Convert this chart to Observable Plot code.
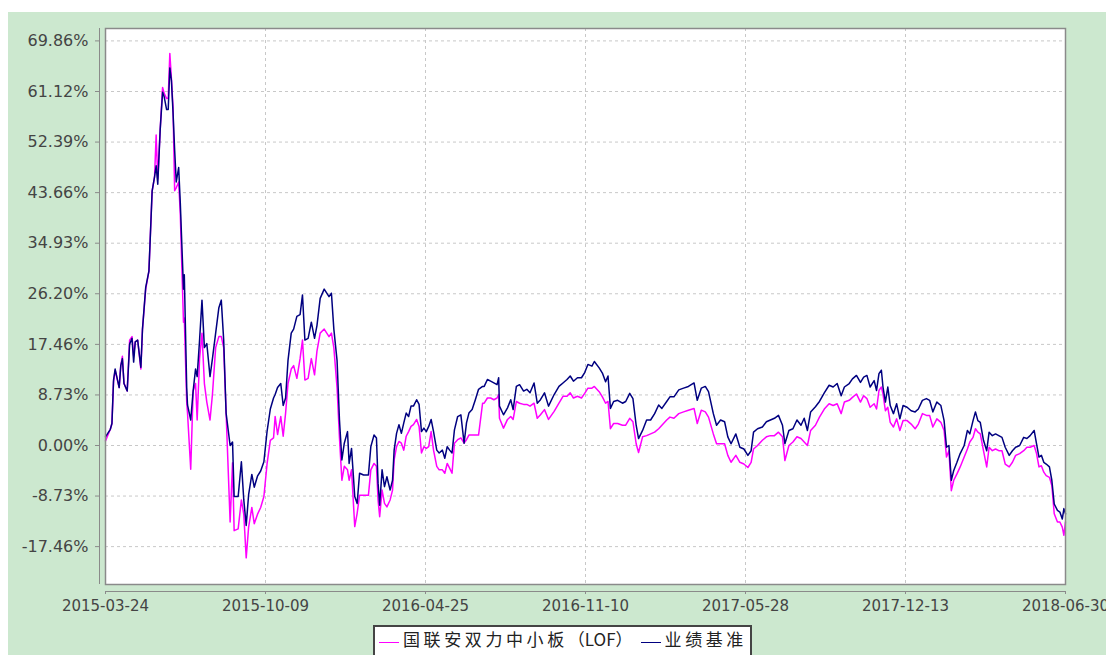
<!DOCTYPE html>
<html><head><meta charset="utf-8">
<script src="https://cdn.jsdelivr.net/npm/d3@7"></script>
<script src="https://cdn.jsdelivr.net/npm/@observablehq/plot@0.6"></script>
<style>
html,body{margin:0;padding:0;background:#fff;overflow:hidden;width:1106px;height:655px;}
#panel{position:absolute;left:8px;top:12px;width:1098px;height:643px;background:#cce8cf;overflow:hidden;}
#chart{position:absolute;left:0;top:0;}
#legend{position:absolute;left:373px;top:625px;width:379px;height:42px;box-sizing:border-box;border:2px solid #444;background:#fff;display:flex;align-items:flex-start;padding-left:4px;font-family:"Noto Sans CJK SC",sans-serif;font-size:17px;color:#222;overflow:visible;}
#legend .sw{display:inline-block;flex:0 0 20px;width:20px;height:1.6px;margin-top:14.5px;}
#legend .lt{display:inline-block;flex:0 0 auto;line-height:24px;margin-left:4px;margin-right:8px;white-space:nowrap;}
#legend .cjk{letter-spacing:3.6px;}
#legend .lat{letter-spacing:0;}
</style></head>
<body>
<div id="panel"><div id="chart"></div></div>
<div id="legend"></div>
<script>
const seriesNames = ["国联安双力中小板（LOF）", "业绩基准"];
const seriesColors = ["#ff00ff", "#000080"];
const xTickLabels = ["2015-03-24","2015-10-09","2016-04-25","2016-11-10","2017-05-28","2017-12-13","2018-06-30"];
const yTicks = [-17.46, -8.73, 0, 8.73, 17.46, 26.20, 34.93, 43.66, 52.39, 61.12, 69.86];
const yDomain = [-24, 72];

const dates = [
"2015-03-24","2015-03-30","2015-04-01","2015-04-03","2015-04-05","2015-04-10","2015-04-12","2015-04-14","2015-04-16","2015-04-20",
"2015-04-23","2015-04-26","2015-04-28","2015-04-30","2015-05-03","2015-05-07","2015-05-09","2015-05-13","2015-05-17","2015-05-21",
"2015-05-24","2015-05-26","2015-05-28","2015-05-31","2015-06-03","2015-06-05","2015-06-08","2015-06-10","2015-06-12","2015-06-14",
"2015-06-16","2015-06-18","2015-06-20","2015-06-23","2015-06-25","2015-06-29","2015-06-30","2015-07-03","2015-07-04","2015-07-08",
"2015-07-11","2015-07-14","2015-07-16","2015-07-19","2015-07-22","2015-07-25","2015-07-28","2015-08-01","2015-08-04","2015-08-08",
"2015-08-12","2015-08-15","2015-08-18","2015-08-21","2015-08-26","2015-08-29","2015-08-31","2015-09-05","2015-09-09","2015-09-12",
"2015-09-15","2015-09-18","2015-09-22","2015-09-25","2015-09-29","2015-10-03","2015-10-07","2015-10-11","2015-10-15","2015-10-19",
"2015-10-21","2015-10-24","2015-10-28","2015-10-31","2015-11-03","2015-11-06","2015-11-10","2015-11-13","2015-11-17","2015-11-21",
"2015-11-24","2015-11-27","2015-12-01","2015-12-05","2015-12-09","2015-12-12","2015-12-16","2015-12-21","2015-12-27","2015-12-30",
"2016-01-02","2016-01-06","2016-01-09","2016-01-12","2016-01-15","2016-01-19","2016-01-21","2016-01-24","2016-01-28","2016-01-31",
"2016-02-03","2016-02-08","2016-02-14","2016-02-17","2016-02-21","2016-02-24","2016-02-26","2016-02-28","2016-03-02","2016-03-05",
"2016-03-08","2016-03-12","2016-03-15","2016-03-17","2016-03-20","2016-03-23","2016-03-26","2016-03-29","2016-04-01","2016-04-04",
"2016-04-07","2016-04-10","2016-04-14","2016-04-17","2016-04-20","2016-04-23","2016-04-26","2016-04-29","2016-05-02","2016-05-05",
"2016-05-09","2016-05-12","2016-05-16","2016-05-19","2016-05-22","2016-05-25","2016-05-28","2016-05-31","2016-06-04","2016-06-08",
"2016-06-12","2016-06-15","2016-06-18","2016-06-22","2016-06-26","2016-06-30","2016-07-05","2016-07-07","2016-07-11","2016-07-15",
"2016-07-19","2016-07-23","2016-07-25","2016-07-26","2016-07-31","2016-08-05","2016-08-09","2016-08-12","2016-08-16","2016-08-20",
"2016-08-25","2016-08-29","2016-09-02","2016-09-07","2016-09-11","2016-09-15","2016-09-20","2016-09-25","2016-10-02","2016-10-08",
"2016-10-13","2016-10-18","2016-10-22","2016-10-26","2016-10-31","2016-11-05","2016-11-09","2016-11-13","2016-11-18","2016-11-21",
"2016-11-27","2016-12-01","2016-12-05","2016-12-08","2016-12-11","2016-12-15","2016-12-20","2016-12-26","2016-12-30","2017-01-04",
"2017-01-08","2017-01-12","2017-01-15","2017-01-20","2017-01-25","2017-01-30","2017-02-04","2017-02-09","2017-02-13","2017-02-19",
"2017-02-23","2017-02-28","2017-03-06","2017-03-12","2017-03-18","2017-03-25","2017-03-29","2017-04-03","2017-04-08","2017-04-12",
"2017-04-18","2017-04-22","2017-04-27","2017-05-02","2017-05-06","2017-05-10","2017-05-16","2017-05-21","2017-05-26","2017-05-31",
"2017-06-04","2017-06-07","2017-06-12","2017-06-18","2017-06-23","2017-06-28","2017-07-03","2017-07-08","2017-07-13","2017-07-16",
"2017-07-21","2017-07-26","2017-07-31","2017-08-05","2017-08-09","2017-08-13","2017-08-17","2017-08-23","2017-08-28","2017-09-03",
"2017-09-09","2017-09-14","2017-09-19","2017-09-24","2017-09-28","2017-10-04","2017-10-08","2017-10-13","2017-10-18","2017-10-22",
"2017-10-26","2017-10-30","2017-11-04","2017-11-07","2017-11-10","2017-11-13","2017-11-15","2017-11-18","2017-11-21","2017-11-24",
"2017-11-28","2017-12-02","2017-12-06","2017-12-10","2017-12-15","2017-12-20","2017-12-25","2017-12-29","2018-01-03","2018-01-08",
"2018-01-12","2018-01-16","2018-01-21","2018-01-26","2018-01-30","2018-02-02","2018-02-05","2018-02-08","2018-02-11","2018-02-15",
"2018-02-19","2018-02-24","2018-02-28","2018-03-03","2018-03-07","2018-03-10","2018-03-13","2018-03-16","2018-03-20","2018-03-24",
"2018-03-27","2018-03-31","2018-04-04","2018-04-08","2018-04-12","2018-04-16","2018-04-21","2018-04-25","2018-04-29","2018-05-04",
"2018-05-09","2018-05-13","2018-05-17","2018-05-22","2018-05-25","2018-05-28","2018-05-31","2018-06-03","2018-06-06","2018-06-10",
"2018-06-13","2018-06-16","2018-06-20","2018-06-23","2018-06-26","2018-06-28","2018-06-30"];

const fund = [
0.8,2.8,3.8,11.0,13.0,10.0,13.8,15.4,10.7,9.4,
18.2,18.8,15.5,17.9,18.2,13.2,20.1,27.0,30.1,43.9,
46.4,53.6,46.0,54.5,61.8,60.8,59.9,60.0,67.7,63.3,
58.3,44.0,44.5,45.5,40.0,21.3,22.0,7.5,5.6,-4.1,
9.4,10.7,4.4,15.0,19.4,10.7,7.5,4.4,8.8,16.9,
18.8,18.8,16.9,5.6,-13.2,-3.0,-14.7,-14.4,-9.4,-11.9,
-19.4,-14.1,-10.7,-13.5,-11.9,-10.7,-8.8,-3.1,0.9,1.3,
5.0,1.9,5.0,1.6,5.6,10.7,13.2,13.8,11.6,15.0,
18.2,11.3,11.6,15.0,12.2,16.3,19.4,20.1,18.8,19.4,
16.9,10.0,1.3,-6.0,-3.6,-4.2,-6.0,-4.2,-14.0,-11.7,
-8.6,-8.6,-8.6,-4.2,-3.1,-3.6,-9.4,-12.3,-7.7,-10.0,
-10.6,-9.4,-7.7,-2.5,-0.2,0.7,0.4,-0.8,1.6,2.4,
3.3,3.6,4.5,3.3,-1.3,-0.2,-0.5,-0.2,2.4,-0.8,
-3.6,-4.2,-4.2,-4.8,-3.1,-3.9,-4.8,0.4,1.0,1.3,
0.4,1.0,1.8,1.8,1.8,1.8,7.3,7.3,8.2,8.2,
7.9,8.2,8.8,4.7,3.0,4.5,5.0,4.5,7.6,7.3,
7.1,7.1,6.8,7.3,4.7,5.3,6.2,4.5,5.9,7.3,
8.5,8.5,9.1,8.2,8.5,8.2,9.0,9.9,9.9,10.2,
9.3,8.4,7.3,7.6,2.9,3.8,3.8,3.5,3.5,4.7,
4.1,0.3,-1.2,1.5,1.7,2.0,2.3,2.9,3.5,4.4,
4.9,4.7,5.5,5.8,6.1,6.4,3.8,6.1,5.8,4.9,
2.0,0.3,0.3,0.3,-1.7,-2.9,-1.7,-2.9,-3.2,-3.8,
-2.9,-0.6,0.0,0.9,1.5,1.7,1.7,2.3,1.5,-2.6,
0.0,0.6,1.5,1.2,0.6,0.0,2.6,3.5,4.9,6.3,
7.2,6.9,7.2,5.5,7.5,7.8,8.3,8.9,7.5,8.6,
8.1,6.6,7.2,6.3,9.5,10.1,8.9,6.0,6.6,4.0,
3.2,4.6,2.6,4.3,4.3,3.7,2.9,3.7,5.5,5.2,
5.2,3.2,4.6,4.0,2.6,-2.0,-0.9,-7.8,-6.0,-4.9,
-3.7,-2.0,-0.6,0.6,1.4,2.9,2.3,2.0,-0.9,-3.7,
-0.3,-0.9,-0.6,-0.9,-0.9,-3.2,-3.7,-2.9,-1.7,-1.4,
-0.9,-0.3,-0.3,0.0,-1.4,-3.7,-3.5,-4.6,-5.2,-5.5,
-6.9,-11.8,-13.2,-13.2,-14.1,-15.5,-13.2];

const bench = [
1.5,2.8,3.8,11.3,13.2,10.0,13.8,15.0,10.7,9.4,
17.5,18.5,14.4,17.9,18.2,13.5,20.1,27.3,30.1,43.9,
46.4,48.3,45.1,54.5,61.0,60.2,58.0,58.0,65.2,63.0,
57.5,51.0,45.5,48.0,42.0,27.0,29.5,10.0,7.0,4.4,
9.4,13.2,11.9,18.2,25.1,16.9,17.6,11.9,15.0,19.4,
23.8,25.1,18.2,5.6,0.0,0.6,-8.8,-8.8,-2.8,-9.4,
-13.8,-8.5,-5.0,-7.2,-5.3,-4.4,-2.8,2.5,6.3,8.2,
8.8,10.0,10.7,6.9,8.2,14.7,19.4,20.1,22.3,22.6,
26.0,18.2,18.5,21.3,18.5,20.7,25.4,27.0,25.7,26.3,
20.1,14.7,4.4,-2.5,0.4,2.4,-3.1,-0.5,-8.8,-10.0,
-4.8,-5.1,-5.1,-0.2,1.8,1.3,-6.5,-10.3,-4.2,-7.1,
-5.4,-7.7,-6.0,-0.8,2.1,3.6,2.1,3.9,5.6,5.0,
6.8,6.8,7.9,7.1,2.4,3.0,2.4,3.3,4.5,2.4,
-0.8,-1.3,-0.8,-2.2,-0.2,-0.8,-1.3,2.7,5.0,5.3,
0.4,3.9,5.6,6.2,7.9,9.7,10.2,10.2,11.4,11.1,
10.8,10.5,11.7,6.8,5.3,6.5,7.9,6.2,10.2,10.5,
9.4,9.7,9.1,10.8,7.3,7.9,9.1,6.8,8.8,10.2,
10.8,11.4,12.0,11.1,11.7,11.7,12.6,14.0,13.7,14.5,
13.4,12.5,11.0,12.0,6.4,7.6,7.8,7.3,7.6,9.0,
8.1,3.5,1.2,2.6,4.4,4.4,5.5,7.0,6.4,7.6,
8.4,8.4,9.6,9.9,10.2,10.8,7.8,9.9,10.2,9.3,
5.5,3.5,4.4,4.1,1.5,0.3,2.0,-0.3,-0.6,-1.7,
-0.9,2.3,2.9,3.2,4.1,4.4,4.7,5.2,3.5,0.3,
2.6,2.9,4.4,3.5,4.7,2.6,5.8,6.7,7.6,9.1,
10.4,10.1,10.7,8.6,10.1,10.7,11.5,12.1,10.9,11.8,
12.1,10.1,11.2,9.5,12.4,13.0,10.1,7.5,10.1,6.9,
5.5,7.2,4.6,6.9,6.6,6.0,5.8,6.3,7.8,8.1,
7.8,5.8,7.5,6.9,4.3,-0.3,0.0,-6.0,-4.3,-2.9,
-1.4,0.0,2.6,2.0,4.3,5.8,4.3,4.0,0.9,-0.9,
2.3,1.7,2.0,1.7,1.4,-0.3,-1.7,-0.9,-0.3,0.0,
1.4,1.2,1.7,2.6,0.3,-2.0,-1.7,-2.9,-3.2,-3.7,
-6.0,-10.1,-11.2,-11.5,-12.7,-10.9,-11.8];

const parse = d3.utcParse("%Y-%m-%d");
const fmt = d3.utcFormat("%Y-%m-%d");
const rows = dates.map((d, i) => ({date: parse(d), fund: fund[i], bench: bench[i]}));
const xTicks = xTickLabels.map(parse);
const xDomain = [xTicks[0], xTicks[xTicks.length - 1]];
const axisGrey = "#8a8a8a";
const gridStyle = {stroke: "#c8c8c8", strokeOpacity: 1, strokeDasharray: "3,3"};

const chart = Plot.plot({
  width: 1098, height: 610,
  marginLeft: 97, marginRight: 41, marginTop: 16, marginBottom: 38,
  style: {background: "transparent", fontFamily: "'DejaVu Sans', sans-serif", fontSize: "15px", overflow: "visible"},
  x: {type: "utc", domain: xDomain},
  y: {domain: yDomain},
  marks: [
    Plot.frame({fill: "white", stroke: null}),
    Plot.gridY(yTicks, gridStyle),
    Plot.gridX(xTicks, gridStyle),
    Plot.line(rows, {x: "date", y: "fund", stroke: seriesColors[0], strokeWidth: 1.5}),
    Plot.line(rows, {x: "date", y: "bench", stroke: seriesColors[1], strokeWidth: 1.5}),
    Plot.frame({stroke: axisGrey, strokeWidth: 1.5}),
    Plot.ruleX([xDomain[0]], {dx: -6, stroke: axisGrey}),
    Plot.ruleY([yDomain[0]], {dy: 7, stroke: axisGrey}),
    Plot.axisY(yTicks, {tickSize: 4, tickPadding: 7, dx: -6, fontSize: 16, tickFormat: d => d.toFixed(2) + "%", color: "#444", stroke: axisGrey, label: null}),
    Plot.axisX(xTicks, {tickSize: 3, tickPadding: 6, dy: 7, fontSize: 15, tickFormat: fmt, color: "#444", stroke: axisGrey, label: null})
  ]
});
document.getElementById("chart").appendChild(chart);

const legend = document.getElementById("legend");
seriesNames.forEach((name, i) => {
  const sw = document.createElement("span");
  sw.className = "sw";
  sw.style.background = seriesColors[i];
  const lt = document.createElement("span");
  lt.className = "lt";
  name.split(/([\u4e00-\u9fff]+)/).filter(s => s.length).forEach(part => {
    const s = document.createElement("span");
    s.className = /[\u4e00-\u9fff]/.test(part) ? "cjk" : "lat";
    s.textContent = part;
    lt.appendChild(s);
  });
  legend.appendChild(sw);
  legend.appendChild(lt);
});
</script>
</body></html>
